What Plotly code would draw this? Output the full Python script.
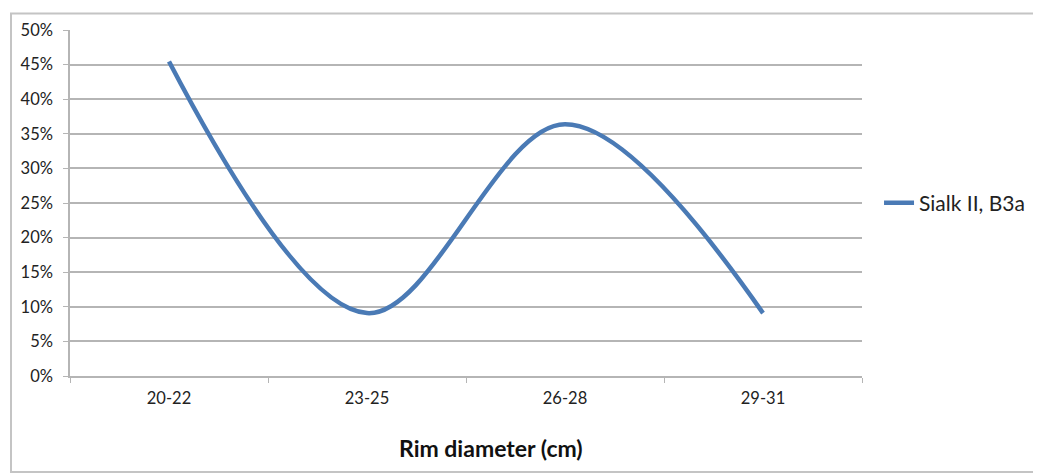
import plotly.graph_objects as go

categories = ["20-22", "23-25", "26-28", "29-31"]
share = [5 / 11, 1 / 11, 4 / 11, 1 / 11]
series_name = "Sialk II, B3a"
x_title = "Rim diameter (cm)"
y_ticks = [0, 0.05, 0.10, 0.15, 0.20, 0.25, 0.30, 0.35, 0.40, 0.45, 0.50]

fig = go.Figure()
fig.add_trace(go.Scatter(
    x=categories, y=share, name=series_name, mode="lines",
    line=dict(color="#4a7ab5", width=4.5, shape="spline", smoothing=1.0),
))

grid = "#b5b5b5"
# the page body adds an 8px margin, so margins are shifted by 8px
fig.update_layout(
    width=1041, height=475,
    margin=dict(l=62, r=187, t=15, b=107),
    paper_bgcolor="white", plot_bgcolor="white",
    font=dict(family="Lato, Open Sans, sans-serif", size=16.5, color="#222"),
    showlegend=True,
    legend=dict(x=1.0215, y=0.5, xanchor="left", yanchor="middle",
                font=dict(size=21, color="#222"), bgcolor="rgba(0,0,0,0)"),
    xaxis=dict(
        range=[-0.5, 3.5], tickson="boundaries", ticks="outside", ticklen=5,
        tickcolor=grid, showline=True, linecolor=grid, linewidth=1.5,
        showgrid=False, ticklabelstandoff=6,
    ),
    yaxis=dict(
        range=[0, 0.5], tickvals=y_ticks, tickformat=".0%", ticks="outside",
        ticklen=5, tickcolor=grid, showline=True, linecolor=grid, linewidth=1.5,
        showgrid=True, gridcolor=grid, gridwidth=1.5, zeroline=False,
        ticklabelstandoff=7,
    ),
)

# axis title sits a little right of the plot centre, as in the original
fig.add_annotation(text="<b>" + x_title + "</b>", xref="paper", yref="paper",
                   x=0.5316, y=-0.2068, xanchor="center", yanchor="middle",
                   showarrow=False, font=dict(size=23, color="#111"))

# outer chart frame
fig.add_shape(type="rect", xref="paper", yref="paper",
              x0=-0.0745, x1=1.2247, y0=-0.2776, y1=1.048,
              line=dict(color="#c4c4c4", width=2), layer="below")

fig.write_html("out.html")
